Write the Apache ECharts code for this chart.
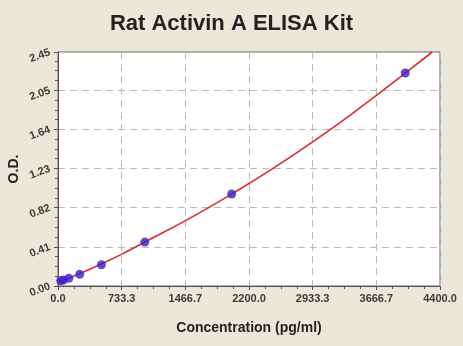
<!DOCTYPE html>
<html><head><meta charset="utf-8">
<script src="https://cdn.jsdelivr.net/npm/echarts@6/dist/echarts.min.js"></script>
<style>html,body{margin:0;padding:0;background:#ebe8d9;}#c{width:463px;height:346px;}</style>
</head><body><div id="c"></div>
<script>
const title = 'Rat Activin A ELISA Kit';
const xName = 'Concentration (pg/ml)';
const yName = 'O.D.';
const concentrations = [31.25, 62.5, 125, 250, 500, 1000, 2000, 4000];
const odValues = [0.055, 0.063, 0.08, 0.122, 0.223, 0.46, 0.963, 2.23];
const curveX = [0, 250, 500, 750, 1000, 1500, 2000, 2500, 3000, 3500, 4000, 4310];
const curveY = [0.03, 0.13, 0.23, 0.34, 0.46, 0.70, 0.963, 1.245, 1.55, 1.88, 2.23, 2.45];
const yTicks = [0.00, 0.41, 0.82, 1.23, 1.64, 2.05, 2.45];
const xTicks = [0.0, 733.3, 1466.7, 2200.0, 2933.3, 3666.7, 4400.0];

const chart = echarts.init(document.getElementById('c'));
const lbl = {color:'#3a3a3a', fontFamily:'Arial, Liberation Sans', fontSize:11, fontWeight:'bold'};
chart.setOption({
  backgroundColor:'#ebe8d9',
  animation:false,
  title:{text:title, left:'center', top:8, textStyle:{fontFamily:'Arial, Liberation Sans', fontSize:22, fontWeight:'bold', color:'#222'}},
  grid:{left:58, right:23, top:52, bottom:60, containLabel:false, outerBoundsMode:'none', show:true, backgroundColor:'#fff', borderColor:'#666', borderWidth:1},
  xAxis:{type:'value', min:xTicks[0], max:xTicks[xTicks.length-1], interval:xTicks[xTicks.length-1]/(xTicks.length-1),
    name:xName, nameLocation:'middle', nameGap:35, nameMoveOverlap:false,
    nameTextStyle:{fontFamily:'Arial, Liberation Sans', fontSize:14, fontWeight:'bold', color:'#222'},
    axisLine:{lineStyle:{color:'#555'}},
    axisTick:{length:4, lineStyle:{color:'#555'}},
    minorTick:{show:true, splitNumber:4, length:3, lineStyle:{color:'#555'}},
    splitLine:{show:true, lineStyle:{color:'#bbbbbb', type:[7,5]}},
    axisLabel:Object.assign({margin:7, formatter:v=>{let i=xTicks.findIndex(t=>Math.abs(t-v)<1);return i>=0?xTicks[i].toFixed(1):'';}}, lbl)
  },
  yAxis:{type:'value', min:0, max:yTicks[yTicks.length-1], interval:yTicks[1],
    name:yName, nameLocation:'middle', nameGap:37, nameRotate:90, nameMoveOverlap:false,
    nameTextStyle:{fontFamily:'Arial, Liberation Sans', fontSize:14, fontWeight:'bold', color:'#222'},
    axisLine:{show:true, lineStyle:{color:'#555'}},
    axisTick:{show:true, length:4, lineStyle:{color:'#555'}},
    minorTick:{show:true, splitNumber:4, length:3, lineStyle:{color:'#555'}},
    splitLine:{show:true, lineStyle:{color:'#bbbbbb', type:[7,5]}},
    axisLabel:Object.assign({margin:8, rotate:20, formatter:v=>{let i=yTicks.findIndex(t=>Math.abs(t-v)<0.02);return i>=0?yTicks[i].toFixed(2):'';}}, lbl)
  },
  series:[
    {type:'line', data:curveX.map((x,i)=>[x,curveY[i]]), smooth:true, showSymbol:false, lineStyle:{color:'#dd2a2a', width:1.6}, z:2},
    {type:'scatter', data:concentrations.map((x,i)=>[x,odValues[i]]), symbolSize:9, itemStyle:{color:'#3a1ec8'}, z:3}
  ]
});
</script></body></html>
